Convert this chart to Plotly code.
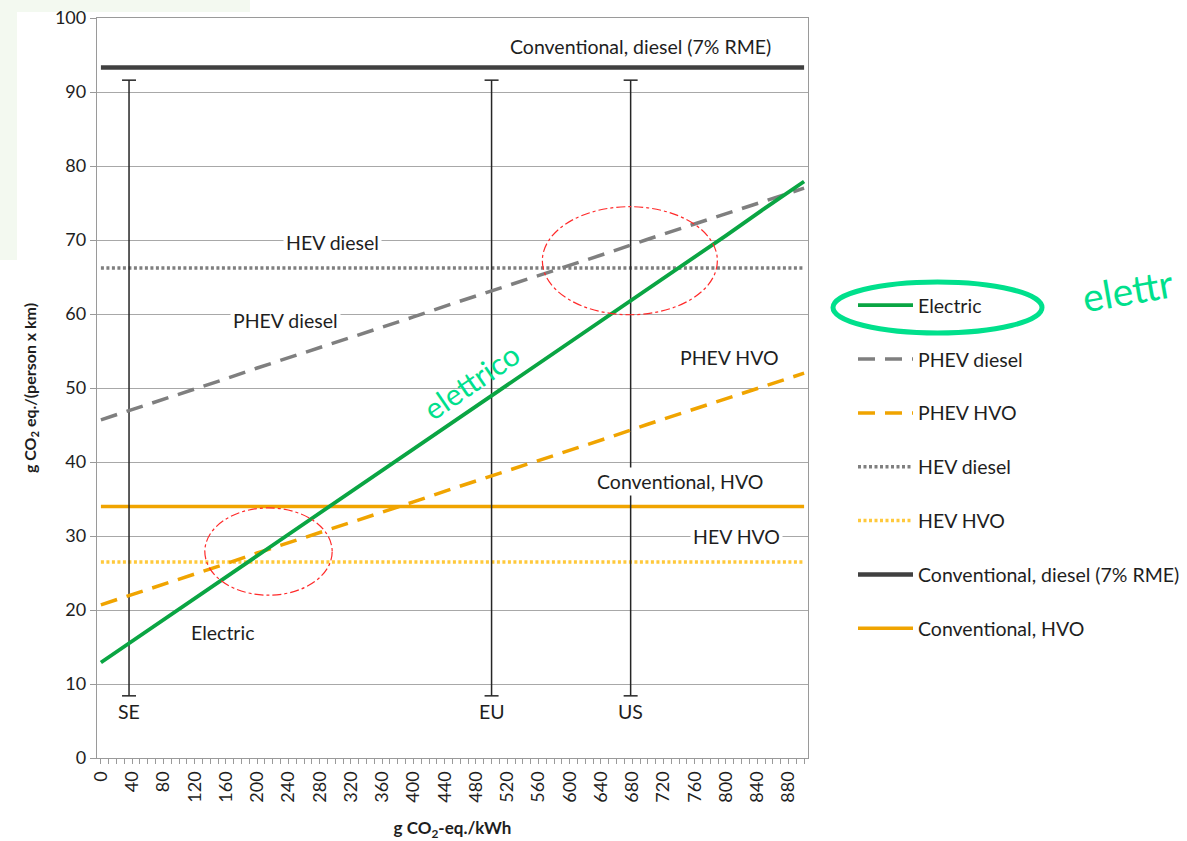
import plotly.graph_objects as go

# Grid carbon intensity of electricity (g CO2-eq./kWh)
grid_intensity = [0, 50, 100, 150, 200, 250, 300, 350, 400, 450, 500,
                  550, 600, 650, 700, 750, 800, 850, 900]

# Emissions per vehicle type (g CO2 eq./(person x km))
electric = [12.9, 16.5, 20.1, 23.7, 27.3, 31.0, 34.6, 38.2, 41.8, 45.4, 49.0,
            52.6, 56.2, 59.8, 63.4, 67.0, 70.6, 74.3, 77.9]
phev_diesel = [45.7, 47.4, 49.2, 50.9, 52.7, 54.4, 56.1, 57.9, 59.6, 61.4, 63.1,
               64.8, 66.6, 68.3, 70.1, 71.8, 73.5, 75.3, 77.0]
phev_hvo = [20.7, 22.4, 24.2, 25.9, 27.7, 29.4, 31.1, 32.9, 34.6, 36.4, 38.1,
            39.8, 41.6, 43.3, 45.1, 46.8, 48.5, 50.3, 52.0]
hev_diesel = 66.2
hev_hvo = 26.5
conv_diesel = 93.3
conv_hvo = 34.0

# Electricity mixes marked on the chart
mix_names = ["SE", "EU", "US"]
mix_values = [36, 500, 678]
mix_low, mix_high = 8.4, 91.6

x_ticks = list(range(0, 881, 40))
y_ticks = list(range(0, 101, 10))

FONT = "Lato, 'Open Sans', sans-serif"
TXT = "#1e1e1e"
GREEN = "#0aa543"
ORANGE = "#f0a400"
GRAY = "#7f7f7f"
DARK = "#404040"
YELLOW = "#ffc93c"
MARK = "#00e08c"
LBL = 19.5

# plot area in pixels
L, R, T, B = 97, 808, 18, 758


def px(xp):
    return (xp - L) / (R - L)


def py(yp):
    return (B - yp) / (B - T)


x_end = [grid_intensity[0], grid_intensity[-1]]

fig = go.Figure()

# horizontal reference lines
fig.add_trace(go.Scatter(x=x_end, y=[conv_hvo] * 2, mode="lines", name="Conventional, HVO",
                         line=dict(color=ORANGE, width=3.5), legendrank=7, legendgroup="g7"))
fig.add_trace(go.Scatter(x=x_end, y=[hev_hvo] * 2, mode="lines", name="HEV HVO",
                         line=dict(color=YELLOW, width=3.5, dash="3px,2.5px"), legendrank=5, legendgroup="g5"))
fig.add_trace(go.Scatter(x=x_end, y=[hev_diesel] * 2, mode="lines", name="HEV diesel",
                         line=dict(color=GRAY, width=3.5, dash="3px,2.5px"), legendrank=4, legendgroup="g4"))
fig.add_trace(go.Scatter(x=x_end, y=[conv_diesel] * 2, mode="lines", name="Conventional, diesel (7% RME)",
                         line=dict(color=DARK, width=4.5), legendrank=6, legendgroup="g6"))

# electricity mix markers
for name, xv in zip(mix_names, mix_values):
    fig.add_trace(go.Scatter(x=[xv, xv], y=[mix_low, mix_high], mode="lines+markers",
                             line=dict(color="#262626", width=1.5),
                             marker=dict(symbol="line-ew", size=10,
                                         line=dict(color="#262626", width=1.5)),
                             showlegend=False, hoverinfo="skip"))
    fig.add_annotation(x=xv, y=6.3, text=name, showarrow=False,
                       font=dict(size=LBL, color=TXT, family=FONT))

# sloped series
fig.add_trace(go.Scatter(x=grid_intensity, y=phev_diesel, mode="lines", name="PHEV diesel",
                         line=dict(color=GRAY, width=3.5, dash="17px,10px"), legendrank=2, legendgroup="g2"))
fig.add_trace(go.Scatter(x=grid_intensity, y=phev_hvo, mode="lines", name="PHEV HVO",
                         line=dict(color=ORANGE, width=3.5, dash="17px,10px"), legendrank=3, legendgroup="g3"))
fig.add_trace(go.Scatter(x=grid_intensity, y=electric, mode="lines", name="Electric",
                         line=dict(color=GREEN, width=3.8), legendrank=1, legendgroup="g1"))

# series labels inside the plot
labels = [
    ("Conventional, diesel (7% RME)", 691, 96.1),
    ("HEV diesel", 297, 69.6),
    ("PHEV diesel", 236, 59.1),
    ("PHEV HVO", 804, 54.1),
    ("Conventional, HVO", 741, 37.4),
    ("HEV HVO", 814, 29.9),
    ("Electric", 155, 17.0),
]
for text, xv, yv in labels:
    fig.add_annotation(x=xv, y=yv, text=text, showarrow=False, bgcolor="white",
                       borderpad=2, font=dict(size=LBL, color=TXT, family=FONT))

# highlighted crossing regions
fig.add_shape(type="circle", xref="x", yref="y", x0=565, x1=789, y0=59.9, y1=74.5,
              line=dict(color="#ff2a2a", width=1.2, dash="dashdot"))
fig.add_shape(type="circle", xref="x", yref="y", x0=133, x1=296, y0=22.0, y1=33.8,
              line=dict(color="#ff2a2a", width=1.2, dash="dashdot"))

# handwritten notes
fig.add_annotation(x=px(471), y=py(381), xref="paper", yref="paper", text="elettrico",
                   showarrow=False, textangle=-34.5,
                   font=dict(size=30, color=MARK, family=FONT))
fig.add_annotation(x=px(1076), y=py(290), xref="paper", yref="paper", text="elettr",
                   showarrow=False, xanchor="left", textangle=-10,
                   font=dict(size=39, color=MARK, family=FONT))
fig.add_shape(type="circle", xref="paper", yref="paper",
              x0=px(833), x1=px(1042), y0=py(333), y1=py(282),
              line=dict(color=MARK, width=5))

# page background trim
fig.add_shape(type="rect", xref="paper", yref="paper", x0=px(0), x1=px(17), y0=py(0), y1=py(260),
              fillcolor="#f3f9f0", line=dict(width=0), layer="below")
fig.add_shape(type="rect", xref="paper", yref="paper", x0=px(0), x1=px(250), y0=py(0), y1=py(12),
              fillcolor="#f3f9f0", line=dict(width=0), layer="below")

fig.update_layout(
    width=1187, height=841,
    margin=dict(l=L, r=1187 - R, t=T, b=841 - B, autoexpand=False),
    paper_bgcolor="white", plot_bgcolor="white",
    font=dict(family=FONT, color=TXT, size=16),
    showlegend=True,
    legend=dict(x=px(853), y=py(286), xanchor="left", yanchor="top",
                traceorder="grouped", tracegroupgap=25.5, itemwidth=55,
                font=dict(size=LBL, color=TXT, family=FONT), bgcolor="rgba(0,0,0,0)"),
    xaxis=dict(range=[-5, 905], tickvals=x_ticks, ticktext=[str(v) for v in x_ticks],
               tickangle=-90, ticks="outside", ticklen=5, tickcolor="#9a9a9a",
               minor=dict(dtick=10, tick0=0, ticks="outside", ticklen=5, tickcolor="#9a9a9a"),
               showgrid=False, zeroline=False, showline=True, linecolor="#9a9a9a", linewidth=1.3,
               mirror=True, automargin=False, tickfont=dict(size=18, color=TXT, family=FONT),
               title=dict(text="<b>g CO<sub>2</sub>-eq./kWh</b>",
                          font=dict(size=17, color=TXT, family=FONT), standoff=22)),
    yaxis=dict(range=[0, 100], tickvals=y_ticks, ticks="outside", ticklen=6, tickcolor="#9a9a9a",
               showgrid=True, gridcolor="#a8a8a8", gridwidth=1.3, zeroline=False,
               showline=True, linecolor="#9a9a9a", linewidth=1.3, mirror=True, automargin=False,
               tickfont=dict(size=18, color=TXT, family=FONT),
               title=dict(text="<b>g CO<sub>2</sub> eq./(person x km)</b>",
                          font=dict(size=16, color=TXT, family=FONT), standoff=14)),
)

fig.write_html("out.html")
